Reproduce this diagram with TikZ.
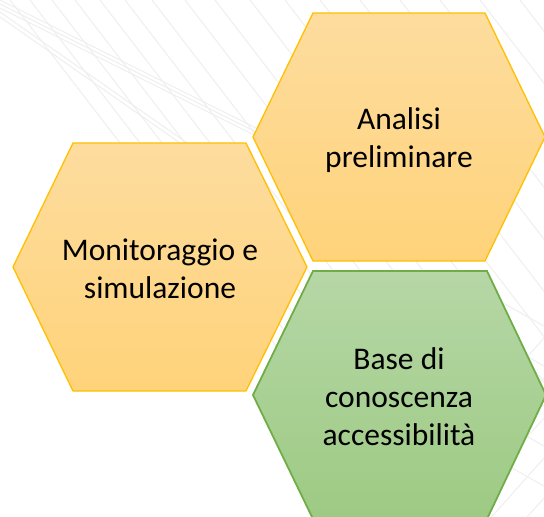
\documentclass[tikz,border=0pt]{standalone}
\usepackage{fontspec}
\setmainfont{Carlito}
\definecolor{orTop}{RGB}{253,220,158}
\definecolor{orBot}{RGB}{255,211,122}
\definecolor{orLine}{RGB}{255,192,0}
\definecolor{grTop}{RGB}{182,215,166}
\definecolor{grBot}{RGB}{157,202,131}
\definecolor{grLine}{RGB}{112,173,71}
\definecolor{bgLine}{RGB}{239,239,239}
\tikzset{
  hexor/.style={top color=orTop, bottom color=orBot, draw=orLine, line width=1.3pt, line join=miter},
  hexgr/.style={top color=grTop, bottom color=grBot, draw=grLine, line width=1.8pt, line join=miter},
  hextext/.style={align=center, font=\fontsize{31.5}{38}\selectfont, text=black, inner sep=0pt},
  bgl/.style={draw=bgLine, line width=1pt}
}
\begin{document}
\begin{tikzpicture}[x=1pt,y=-1pt]
\useasboundingbox (0,0) rectangle (544,517);
\fill[white] (0,0) rectangle (544,517);
% faint background lines
\begin{scope}
\clip (0,0) rectangle (544,517);
\foreach \s in {10,30,52,75,100,125,152,185,215,250,285,320,360,400,440,480,520}{
  \draw[bgl] (\s,0) -- ++(300,390);
}
\foreach \s in {0,4,8}{
  \draw[bgl] (0,\s) -- (260,\s+130);
}
\foreach \s in {12,17}{
  \draw[bgl] (0,\s) -- (200,\s+140);
}
\foreach \s in {290,330,370,410,450}{
  \draw[bgl] (480,\s) -- (560,\s+45);
  \draw[bgl] (480,\s+120) -- (560,\s+30);
}
\end{scope}
% hexagons
\path[hexor] (253,137) -- (313,13) -- (485,13) -- (545,137) -- (485,261) -- (313,261) -- cycle;
\path[hexor] (13,267) -- (73,143) -- (246,143) -- (307,267) -- (246,391) -- (73,391) -- cycle;
\path[hexgr] (253,395) -- (313,271) -- (487,271) -- (546,395) -- (487,519) -- (313,519) -- cycle;
% labels
\node[hextext] (analisi) at (399,140) {Analisi\\preliminare};
\node[hextext] (monit) at (160,269) {Monitoraggio e\\simulazione};
\node[hextext] (base) at (399,397) {Base di\\conoscenza\\accessibilità};
\end{tikzpicture}
\end{document}
